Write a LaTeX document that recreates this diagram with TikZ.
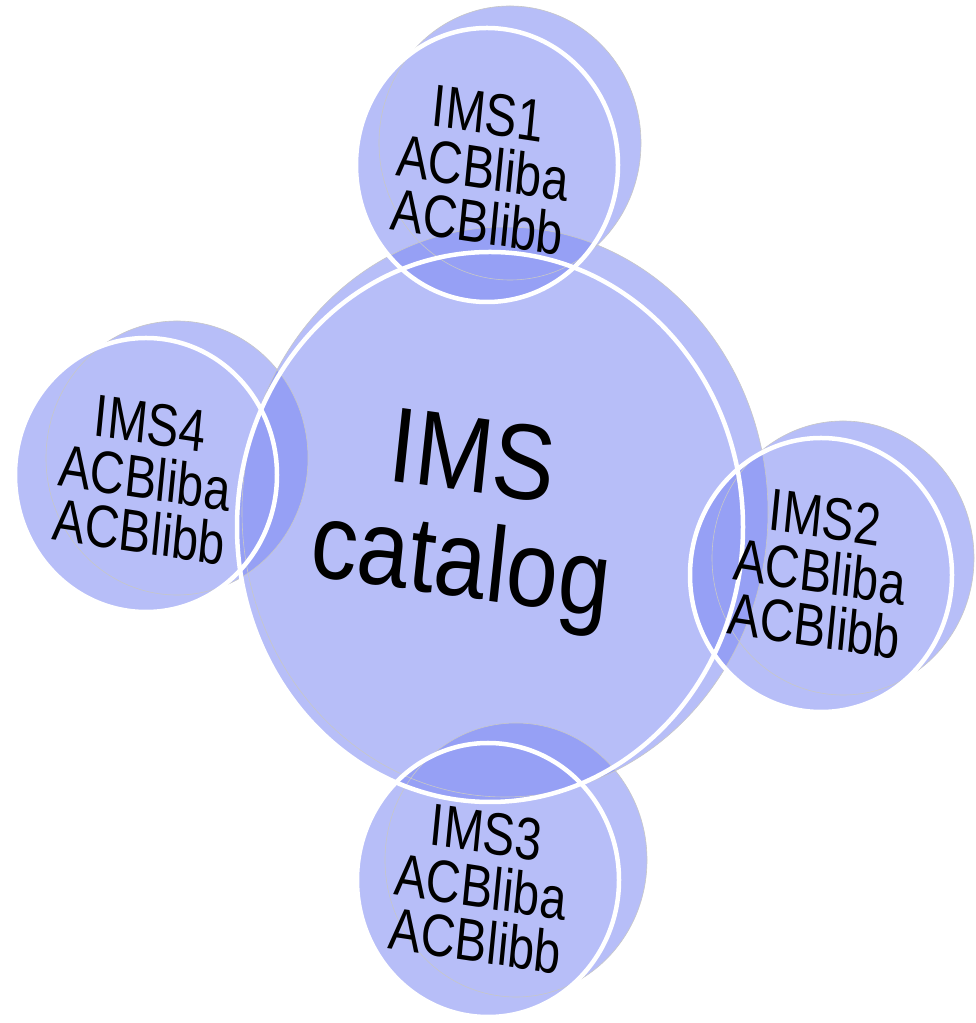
\documentclass[tikz,border=0pt]{standalone}
\usepackage{fontspec}
\setmainfont{Liberation Sans}
\definecolor{discblue}{RGB}{122,135,242}
\tikzset{
  disc/.style={fill=discblue, fill opacity=0.54},
  rim/.style={draw=black!22, line width=0.12mm},
  face/.style={draw=white, line width=0.9mm},
  biglabel/.style={xscale=0.87, rotate=-7, align=center, font=\fontsize{61}{60}\selectfont},
  smalllabel/.style={xscale=0.8, rotate=-7, align=center, font=\fontsize{34}{31}\selectfont}
}
\begin{document}
\begin{tikzpicture}[x=0.2mm, y=0.2mm]
  \useasboundingbox (0,0) rectangle (975,1023);
  % bodies: front face and back face of every disc
  \fill[disc] (490,496) ellipse [x radius=253, y radius=275] (505,511) ellipse [x radius=263, y radius=285];
  \foreach \x/\y/\dx/\dy in {487/858/23/22, 821/448/22/17, 488/143/28/20, 146/548/31/17} {
    \fill[disc] (\x,\y) ellipse [x radius=131, y radius=137] (\x+\dx,\y+\dy) ellipse [x radius=131, y radius=137];
  }
  % back rims
  \draw[rim] (505,511) ellipse [x radius=263, y radius=285];
  \foreach \x/\y/\dx/\dy in {487/858/23/22, 821/448/22/17, 488/143/28/20, 146/548/31/17} {
    \draw[rim] (\x+\dx,\y+\dy) ellipse [x radius=131, y radius=137];
  }
  % front faces
  \draw[face] (490,496) ellipse [x radius=253, y radius=275];
  \foreach \x/\y in {487/858, 821/448, 488/143, 146/548} {
    \draw[face] (\x,\y) ellipse [x radius=131, y radius=137];
  }
  \node[biglabel] (catalog) at (466,505) {IMS\\catalog};
  \node[smalllabel] (ims1) at (483,855) {IMS1\\ACBliba\\ACBlibb};
  \node[smalllabel] (ims2) at (820,451) {IMS2\\ACBliba\\ACBlibb};
  \node[smalllabel] (ims3) at (481,136) {IMS3\\ACBliba\\ACBlibb};
  \node[smalllabel] (ims4) at (145,545) {IMS4\\ACBliba\\ACBlibb};
\end{tikzpicture}
\end{document}
